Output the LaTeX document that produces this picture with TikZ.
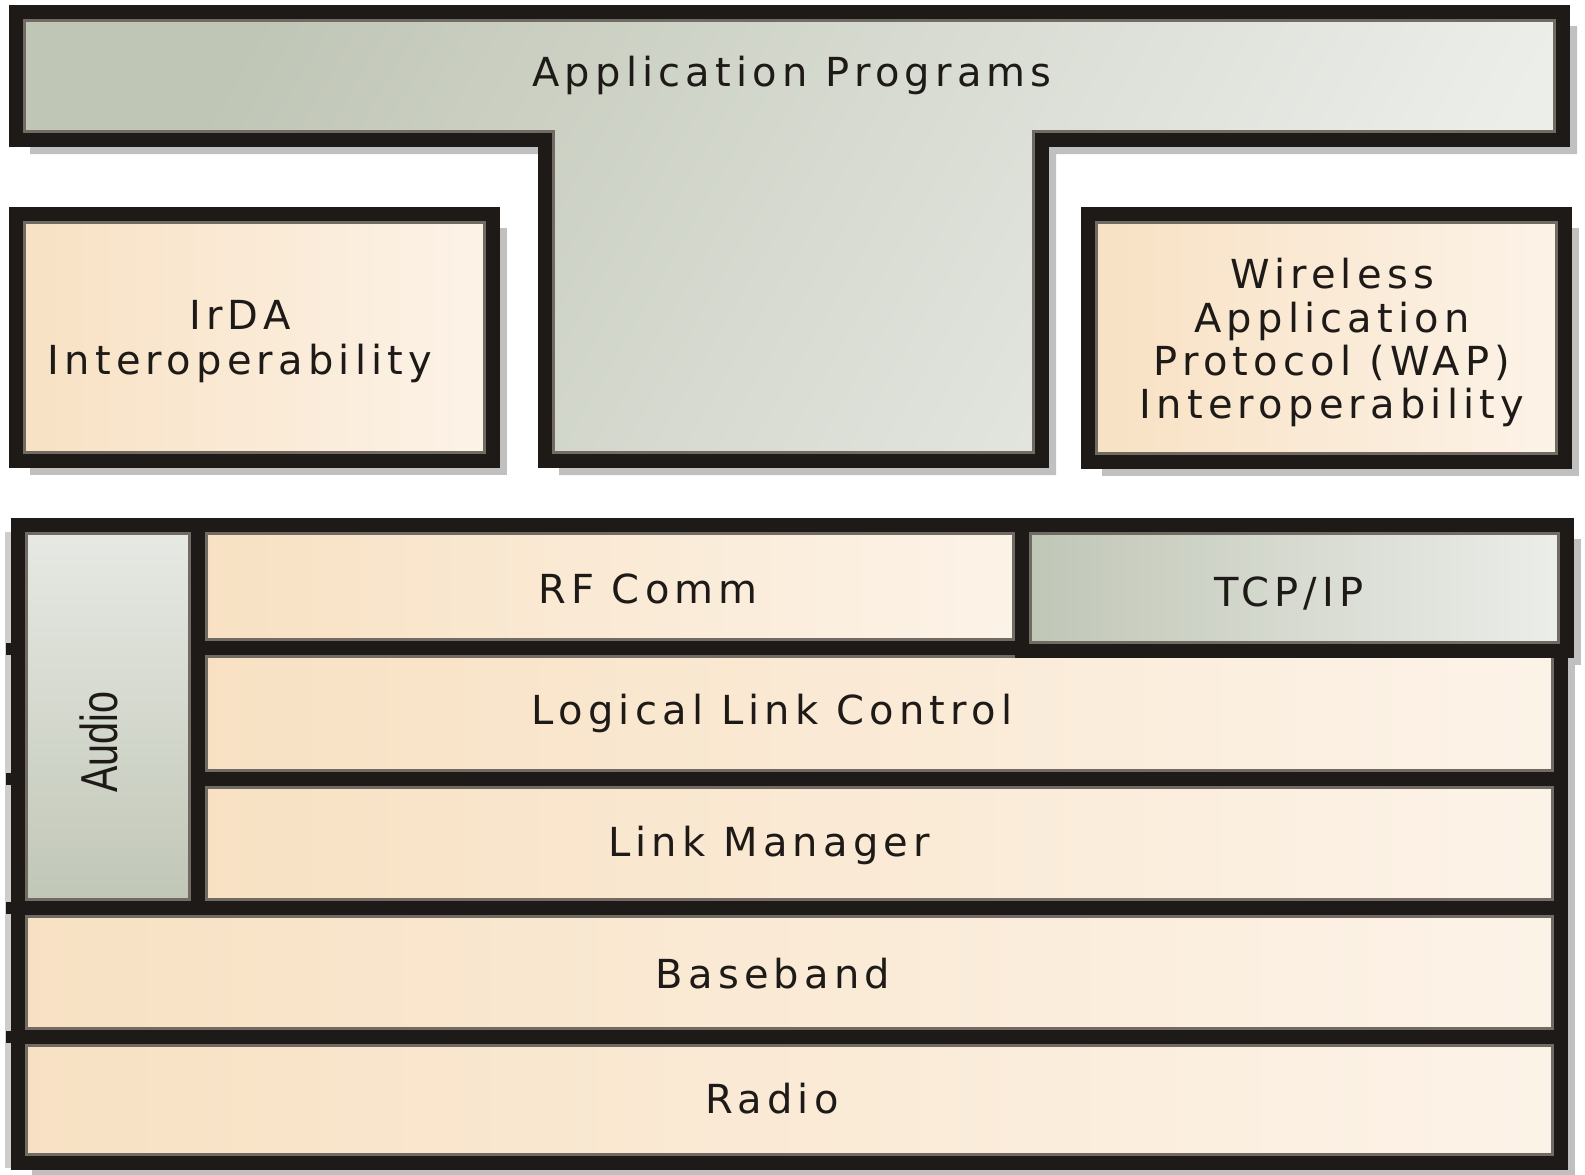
\documentclass[tikz,border=0pt]{standalone}
\usepackage{fontspec}
\setmainfont{Liberation Sans}
\newfontfamily\spacedfont[LetterSpace=13]{DejaVu Sans}

\definecolor{ink}{HTML}{1E1A17}
\definecolor{edgegray}{HTML}{726B64}
\definecolor{shadowgray}{HTML}{C0C0C0}
\definecolor{sage}{HTML}{C0C6B6}
\definecolor{sagelight}{HTML}{ECEEEA}
\definecolor{peach}{HTML}{F8E1C3}
\definecolor{peachlight}{HTML}{FCF3E8}

% fill, inner bevel edge of a rectangular panel
\newcommand\panelfill[3]{%
  \path[#1] #2 rectangle #3;
  \begin{scope}
    \clip #2 rectangle #3;
    \draw[inneredge] #2 rectangle #3;
  \end{scope}}

\begin{document}
\begin{tikzpicture}[x=1pt,y=-1pt,
  border/.style={draw=ink,line width=14pt,line join=miter},
  inneredge/.style={draw=edgegray,line width=20pt},
  dropshadow/.style={fill=shadowgray},
  peachfill/.style={left color=peach,right color=peachlight},
  sagefill/.style={left color=sage,right color=sagelight},
  audiofill/.style={top color=sagelight!90!sage,bottom color=sage},
  tfill/.style={left color=sage,right color=sagelight,shading angle=60},
  label/.style={text=ink,inner sep=0pt,anchor=base,
    font=\spacedfont\fontsize{40}{44}\selectfont}]

\useasboundingbox (0,0) rectangle (1585,1175);
\clip (0,0) rectangle (1585,1175);
\fill[white] (0,0) rectangle (1585,1175);

% ---- drop shadows ----
\begin{scope}[shift={(14,14)}]
  \fill[dropshadow] (16,12) -- (1563,12) -- (1563,140) -- (1042,140)
    -- (1042,461) -- (545,461) -- (545,140) -- (16,140) -- cycle;
  \fill[dropshadow] (16,214) rectangle (493,461);
  \fill[dropshadow] (1088,214) rectangle (1565,462);
  \fill[dropshadow] (18,525) rectangle (1561,1163);
  \fill[dropshadow] (1022,525) rectangle (1567,651);
\end{scope}
\fill[shadowgray!80!white] (5,532) rectangle (11,1168);

% ---- Application Programs (T shape) ----
\path[tfill] (16,12) -- (1563,12) -- (1563,140) -- (1042,140)
  -- (1042,461) -- (545,461) -- (545,140) -- (16,140) -- cycle;
\begin{scope}
  \clip (16,12) -- (1563,12) -- (1563,140) -- (1042,140)
    -- (1042,461) -- (545,461) -- (545,140) -- (16,140) -- cycle;
  \draw[inneredge] (16,12) -- (1563,12) -- (1563,140) -- (1042,140)
    -- (1042,461) -- (545,461) -- (545,140) -- (16,140) -- cycle;
\end{scope}
\draw[border] (16,12) -- (1563,12) -- (1563,140) -- (1042,140)
  -- (1042,461) -- (545,461) -- (545,140) -- (16,140) -- cycle;

% ---- side boxes ----
\panelfill{peachfill}{(16,214)}{(493,461)}
\draw[border] (16,214) rectangle (493,461);
\panelfill{peachfill}{(1088,214)}{(1565,462)}
\draw[border] (1088,214) rectangle (1565,462);

% ---- protocol stack ----
\panelfill{audiofill}{(18,525)}{(198,908)}
\panelfill{peachfill}{(198,525)}{(1022,648)}
\panelfill{peachfill}{(198,648)}{(1561,779)}
\panelfill{peachfill}{(198,779)}{(1561,908)}
\panelfill{peachfill}{(18,908)}{(1561,1037)}
\panelfill{peachfill}{(18,1037)}{(1561,1163)}
\draw[border] (18,525) rectangle (198,908);
\draw[border] (198,525) rectangle (1022,648);
\draw[border] (198,648) rectangle (1561,779);
\draw[border] (198,779) rectangle (1561,908);
\draw[border] (18,908) rectangle (1561,1037);
\draw[border] (18,1037) rectangle (1561,1163);
\panelfill{sagefill}{(1022,525)}{(1567,651)}
\draw[border] (1022,525) rectangle (1567,651);

% small ticks where the layer lines meet the outer frame
\foreach \yy in {649,779,908,1037}
  \fill[ink] (6,\yy-6) rectangle (12,\yy+6);

% ---- labels ----
\node[label] (app) at (792,86) {Application Programs};
\node[label] (irda1) at (240,329) {IrDA};
\node[label] (irda2) at (240,374) {Interoperability};
\node[label] (wap1) at (1332,288) {Wireless};
\node[label] (wap2) at (1332,332) {Application};
\node[label] (wap3) at (1332,375) {Protocol (WAP)};
\node[label] (wap4) at (1332,418) {Interoperability};
\node[label] (rf) at (648,603) {RF Comm};
\node[label] (tcp) at (1289,606) {TCP/IP};
\node[label] (llc) at (772,724) {Logical Link Control};
\node[label] (lm) at (769,856) {Link Manager};
\node[label] (bb) at (773,988) {Baseband};
\node[label] (radio) at (772,1113) {Radio};
\node[text=ink,inner sep=0pt,rotate=90] (audio) at (99,742)
  {\scalebox{0.76}[1]{\fontsize{52}{60}\selectfont Audio}};
\end{tikzpicture}
\end{document}
